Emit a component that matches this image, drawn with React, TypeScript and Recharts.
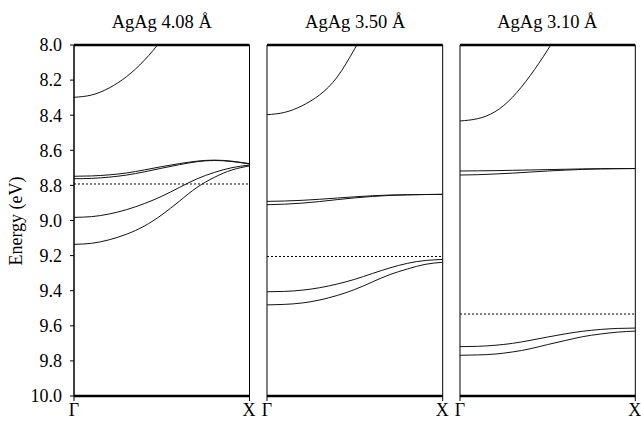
import React from "react";
import { LineChart, Line, XAxis, YAxis, ReferenceLine } from "recharts";

// k-path Γ -> X, sampled at 11 points
const kPoints = [0, 0.1, 0.2, 0.3, 0.4, 0.5, 0.6, 0.7, 0.8, 0.9, 1.0];
const energyTicks = [8.0, 8.2, 8.4, 8.6, 8.8, 9.0, 9.2, 9.4, 9.6, 9.8, 10.0];
const minorTicks = Array.from({ length: 101 }, (_, i) => 8 + i * 0.02);
const kTicks = [0, 1];
const kLabels = ["Γ", "X"];

// AgAg 4.08 Å
const p1Band1 = [8.298, 8.285, 8.245, 8.18, 8.088, 7.968, 7.82, 7.65, 7.45, 7.23, 6.98];
const p1Band2 = [8.748, 8.746, 8.74, 8.729, 8.712, 8.693, 8.676, 8.662, 8.656, 8.662, 8.676];
const p1Band3 = [8.762, 8.76, 8.753, 8.741, 8.723, 8.702, 8.682, 8.665, 8.658, 8.664, 8.678];
const p1Band4 = [8.982, 8.978, 8.963, 8.938, 8.904, 8.862, 8.812, 8.763, 8.726, 8.699, 8.684];
const p1Band5 = [9.136, 9.13, 9.11, 9.078, 9.032, 8.968, 8.89, 8.812, 8.754, 8.712, 8.689];
const p1Fermi = 8.792;

// AgAg 3.50 Å
const p2Band1 = [8.397, 8.384, 8.346, 8.284, 8.182, 8.02, 7.84, 7.64, 7.44, 7.24, 7.04];
const p2Band2 = [8.891, 8.889, 8.885, 8.879, 8.872, 8.865, 8.859, 8.855, 8.853, 8.852, 8.851];
const p2Band3 = [8.91, 8.907, 8.901, 8.892, 8.881, 8.871, 8.863, 8.857, 8.854, 8.852, 8.851];
const p2Band4 = [9.406, 9.404, 9.397, 9.383, 9.362, 9.335, 9.302, 9.27, 9.244, 9.228, 9.222];
const p2Band5 = [9.481, 9.478, 9.47, 9.453, 9.427, 9.393, 9.35, 9.308, 9.276, 9.25, 9.238];
const p2Fermi = 9.205;

// AgAg 3.10 Å
const p3Band1 = [8.433, 8.42, 8.38, 8.297, 8.175, 8.028, 7.86, 7.67, 7.47, 7.26, 7.05];
const p3Band2 = [8.718, 8.717, 8.716, 8.714, 8.712, 8.71, 8.708, 8.706, 8.705, 8.704, 8.704];
const p3Band3 = [8.741, 8.739, 8.735, 8.73, 8.724, 8.718, 8.713, 8.709, 8.706, 8.705, 8.704];
const p3Band4 = [9.719, 9.717, 9.711, 9.7, 9.683, 9.664, 9.646, 9.631, 9.621, 9.615, 9.613];
const p3Band5 = [9.768, 9.766, 9.761, 9.749, 9.731, 9.707, 9.684, 9.662, 9.647, 9.636, 9.63];
const p3Fermi = 9.533;

const titles = ["AgAg 4.08 Å", "AgAg 3.50 Å", "AgAg 3.10 Å"];

const FONT = '"Liberation Serif", "Times New Roman", Times, serif';

const toRows = (bands: number[][]) =>
  kPoints.map((k, i) => {
    const row: Record<string, number> = { k };
    bands.forEach((b, j) => (row["b" + j] = b[i]));
    return row;
  });

const panels = [
  { title: titles[0], bands: [p1Band1, p1Band2, p1Band3, p1Band4, p1Band5], fermi: p1Fermi, left: 74, right: 249.5 },
  { title: titles[1], bands: [p2Band1, p2Band2, p2Band3, p2Band4, p2Band5], fermi: p2Fermi, left: 267.3, right: 443 },
  { title: titles[2], bands: [p3Band1, p3Band2, p3Band3, p3Band4, p3Band5], fermi: p3Fermi, left: 459.7, right: 635 },
];

const TOP = 45;
const BOTTOM = 396;
const H = 425;

function Panel({ p, first }: { p: (typeof panels)[number]; first: boolean }) {
  const padL = first ? p.left : 10;
  const padR = 6;
  const w = p.right - p.left;
  const data = toRows(p.bands);
  return (
    <>
      <div
        style={{
          position: "absolute",
          left: p.left,
          width: w,
          top: 10,
          lineHeight: "24px",
          textAlign: "center",
          fontFamily: FONT,
          fontSize: 18.5,
          color: "#000",
        }}
      >
        {p.title}
      </div>
      <div style={{ position: "absolute", left: p.left - padL, top: 0 }}>
        <LineChart
          width={padL + w + padR}
          height={H}
          data={data}
          margin={{ top: TOP, right: padR, bottom: 0, left: first ? 0 : padL }}
          style={{ fontFamily: FONT }}
        >
          <XAxis
            dataKey="k"
            type="number"
            domain={[0, 1]}
            ticks={kTicks}
            tickFormatter={(v: number) => kLabels[v === 0 ? 0 : 1]}
            height={H - BOTTOM}
            tickSize={5}
            axisLine={{ stroke: "#000", strokeWidth: 2.5 }}
            tickLine={{ stroke: "#000" }}
            tick={{ fill: "#000", fontSize: 18, fontFamily: FONT }}
            allowDataOverflow
          />
          {first && (
            <YAxis
              yAxisId="minor"
              type="number"
              reversed
              domain={[8, 10]}
              ticks={minorTicks}
              interval={0}
              allowDataOverflow
              width={0}
              tickFormatter={() => ""}
              tickSize={2}
              axisLine={false}
              tickLine={{ stroke: "#000" }}
              tick={{ fontSize: 1 }}
            />
          )}
          <YAxis
            type="number"
            reversed
            domain={[8, 10]}
            ticks={energyTicks}
            interval={0}
            allowDataOverflow
            hide={!first}
            width={first ? p.left : 0}
            tickFormatter={(v: number) => v.toFixed(1)}
            tickSize={4}
            tickMargin={8}
            axisLine={{ stroke: "#000" }}
            tickLine={{ stroke: "#000" }}
            tick={{ fill: "#000", fontSize: 18, fontFamily: FONT }}
          />
          <ReferenceLine y={8} stroke="#000" strokeWidth={2.5} />
          <ReferenceLine x={0} stroke="#000" strokeWidth={1} />
          <ReferenceLine x={1} stroke="#000" strokeWidth={1} />
          <ReferenceLine y={p.fermi} stroke="#000" strokeWidth={1} strokeDasharray="2 2" />
          {p.bands.map((_, j) => (
            <Line
              key={j}
              dataKey={"b" + j}
              type="natural"
              stroke="#111"
              strokeWidth={1}
              dot={false}
              activeDot={false}
              isAnimationActive={false}
            />
          ))}
        </LineChart>
      </div>
    </>
  );
}

export default function App() {
  return (
    <div style={{ position: "absolute", left: 0, top: 0, width: 641, height: 425, background: "#fff" }}>
      {panels.map((p, i) => (
        <Panel key={i} p={p} first={i === 0} />
      ))}
      <div
        style={{
          position: "absolute",
          left: 16,
          top: (TOP + BOTTOM) / 2,
          transform: "translate(-50%, -50%) rotate(-90deg)",
          whiteSpace: "nowrap",
          fontFamily: FONT,
          fontSize: 18,
          color: "#000",
        }}
      >
        Energy (eV)
      </div>
    </div>
  );
}
